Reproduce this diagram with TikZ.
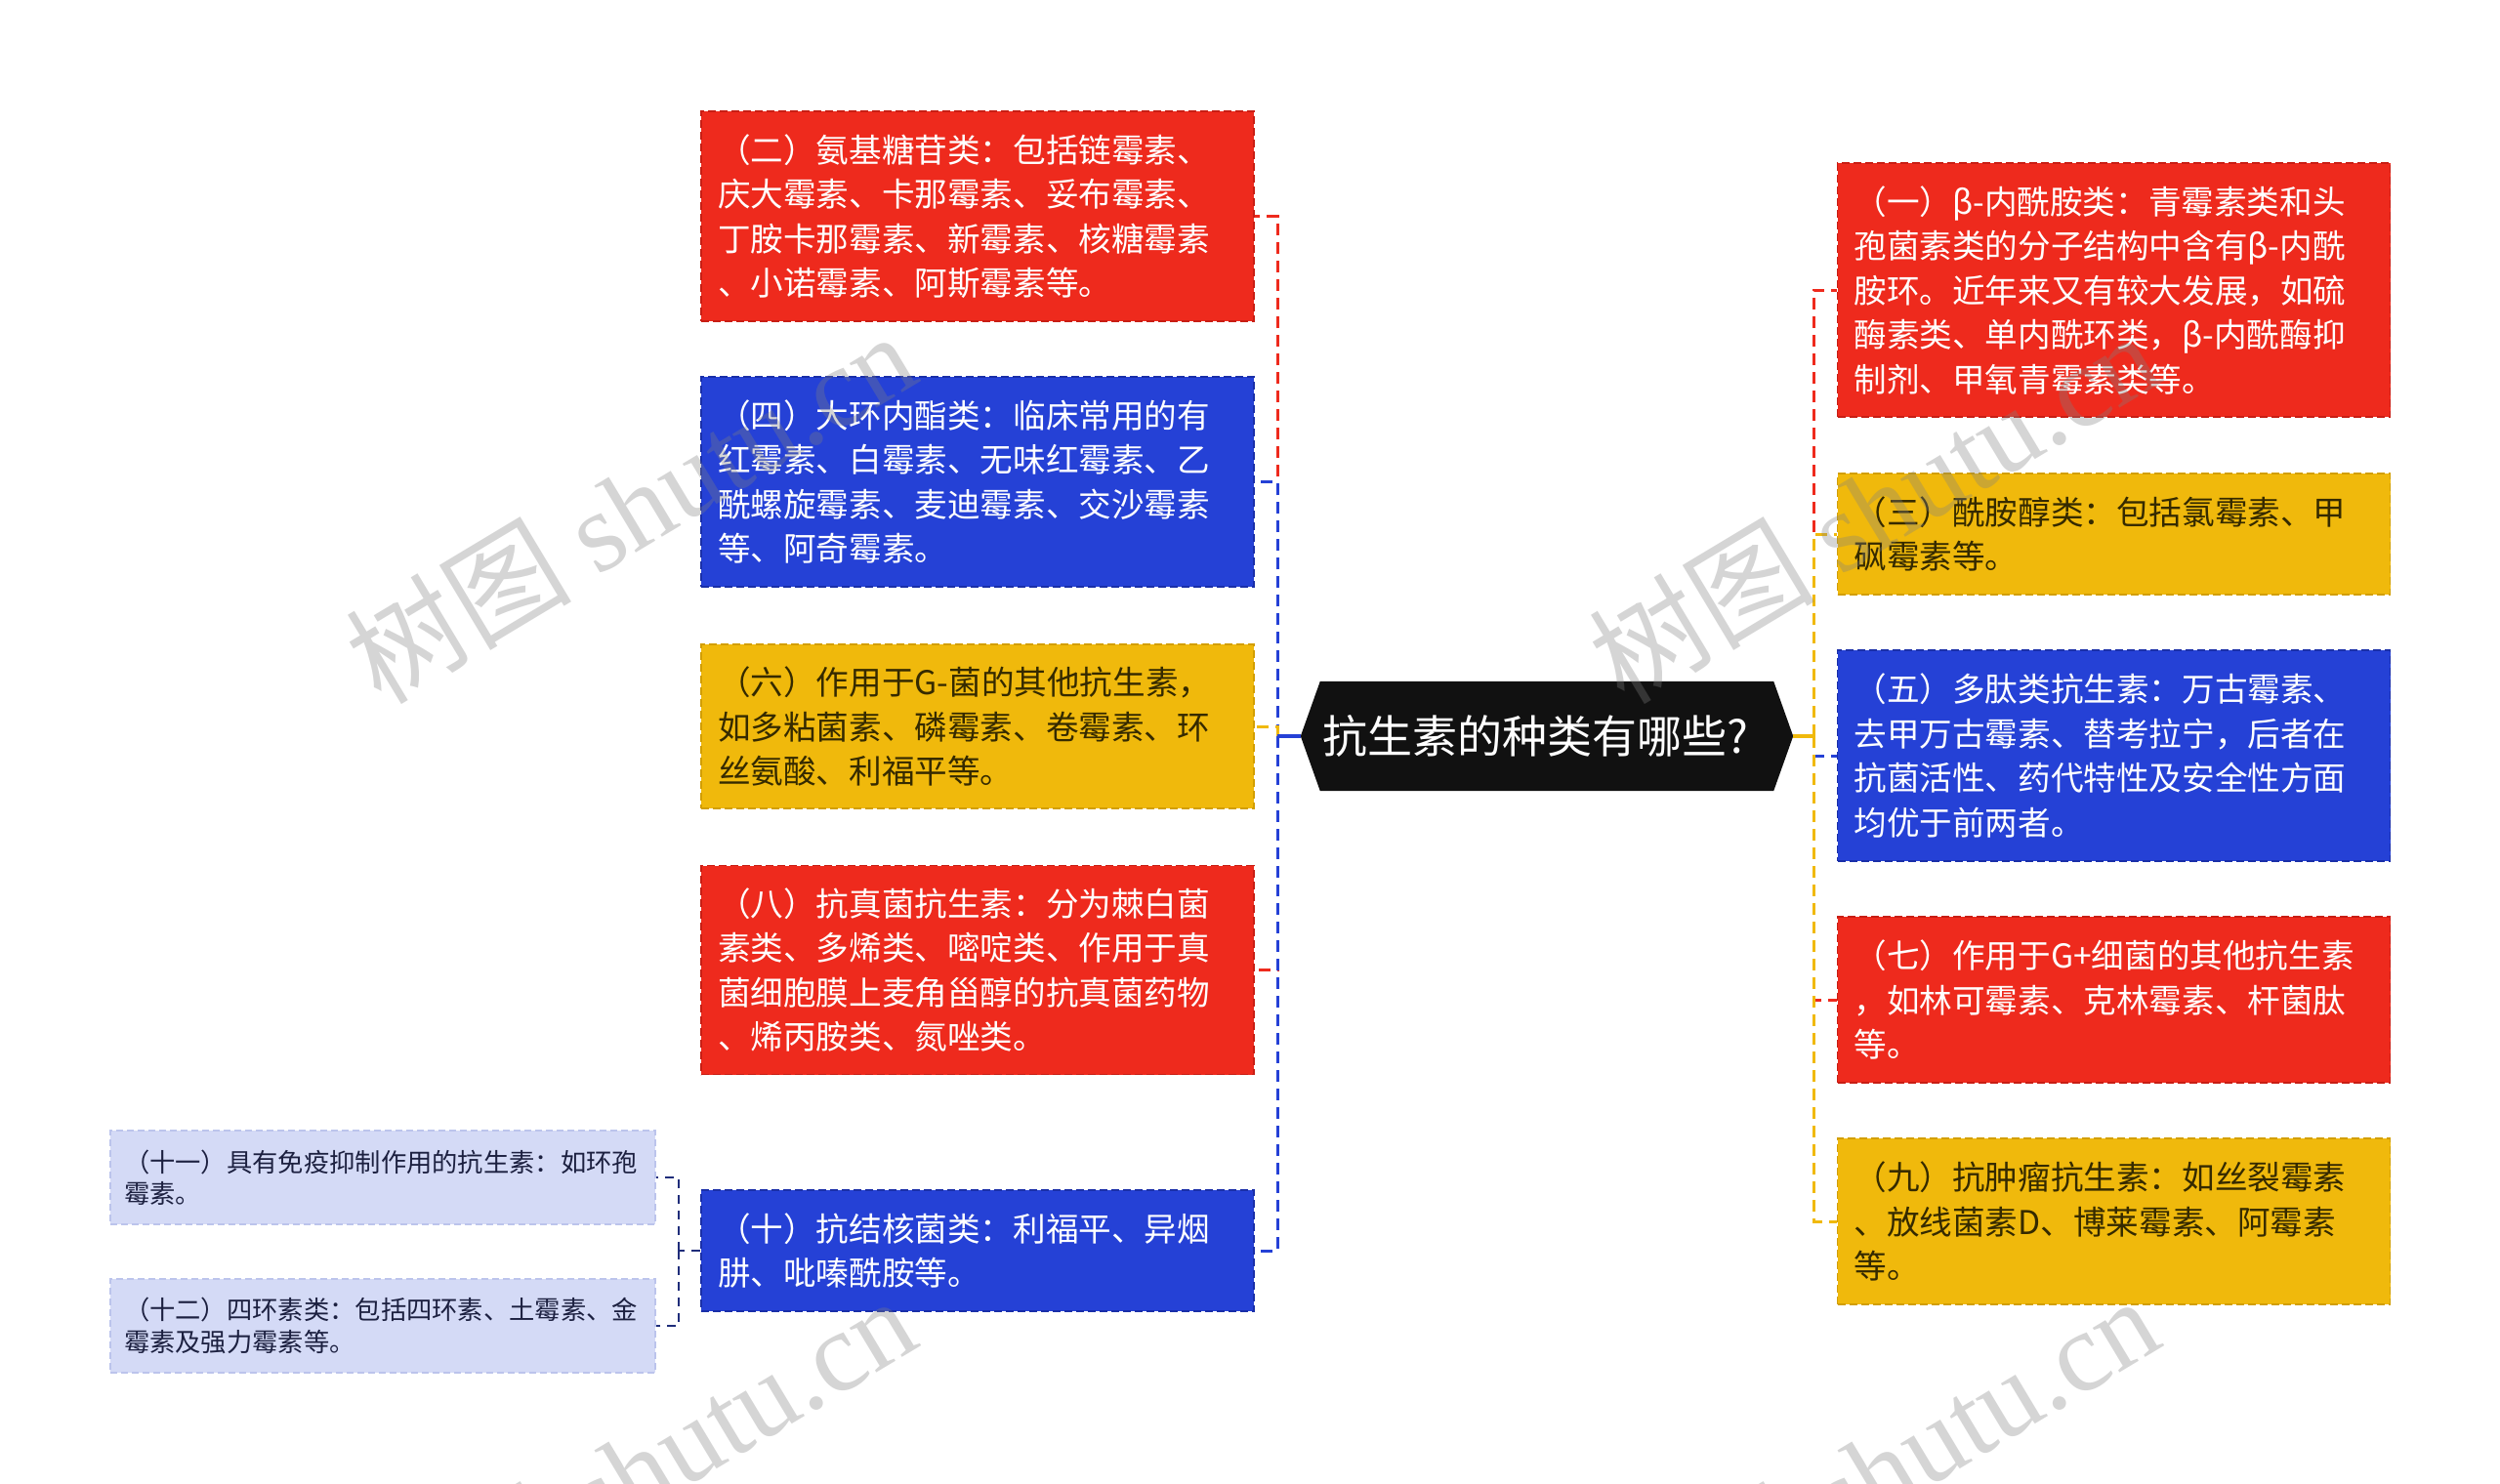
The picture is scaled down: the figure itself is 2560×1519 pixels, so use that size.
\documentclass[tikz,border=0pt]{standalone}
\usepackage{fontspec}
\setmainfont{Noto Sans CJK SC}
\newfontfamily\wmlat{Liberation Serif}
\usetikzlibrary{calc,backgrounds}
\exhyphenpenalty=10000
\hyphenpenalty=10000
\definecolor{cred}{HTML}{EE2A1D}
\definecolor{credd}{HTML}{C81E14}
\definecolor{cblue}{HTML}{2541D6}
\definecolor{cblued}{HTML}{1A2FA8}
\definecolor{cyel}{HTML}{F0B90C}
\definecolor{cyeld}{HTML}{D29E00}
\definecolor{clav}{HTML}{D4DAF6}
\definecolor{clavd}{HTML}{BCC4EC}
\definecolor{cnavy}{HTML}{1F2D7A}
\definecolor{ytext}{HTML}{352A00}
\definecolor{ltext}{HTML}{1C2040}
\definecolor{hexblack}{HTML}{111111}
\tikzset{
  bigbox/.style={rectangle, inner xsep=17pt, inner ysep=0pt, text width=532pt,
    align=left, font=\fontsize{33.6}{45.5}\selectfont, line width=1.6pt,
    dash pattern=on 8pt off 4pt},
  redbox/.style={bigbox, fill=cred, draw=credd, text=white},
  bluebox/.style={bigbox, fill=cblue, draw=cblued, text=white},
  yelbox/.style={bigbox, fill=cyel, draw=cyeld, text=ytext},
  lavbox/.style={rectangle, inner xsep=14pt, inner ysep=0pt, text width=530pt,
    align=left, font=\fontsize{26.3}{32.5}\selectfont, line width=1.4pt,
    dash pattern=on 7pt off 4pt, fill=clav, draw=clavd, text=ltext, minimum height=96pt},
  conn/.style={line width=3pt, dash pattern=on 12pt off 7pt},
  subconn/.style={line width=2.2pt, dash pattern=on 9pt off 7pt, draw=cnavy},
  link/.style={line width=3.2pt},
  wm/.style={rotate=31, text=black!50, opacity=0.33, inner sep=0pt,
    font=\fontsize{116}{120}\selectfont}
}
\begin{document}
\begin{tikzpicture}[x=1pt,y=-1pt]
\useasboundingbox (0,0) rectangle (2560,1519);
\clip (0,0) rectangle (2560,1519);

% center
\node[inner sep=0pt, minimum width=504pt, minimum height=112pt, text=white,
  font=\fontsize{46}{50}\selectfont] (c) at (1584,754) {\hspace*{-24pt}抗生素的种类有哪些?};
\begin{scope}[on background layer]
\fill[white] (0,0) rectangle (2560,1519);
\fill[hexblack] (c.west) -- ($(c.north west)+(20,0)$) -- ($(c.north east)+(-20,0)$)
  -- (c.east) -- ($(c.south east)+(-20,0)$) -- ($(c.south west)+(20,0)$) -- cycle;
\end{scope}

% left column
\node[redbox, minimum height=215pt] (n2) at (1001,221.5) {（二）氨基糖苷类：包括链霉素、\\庆大霉素、卡那霉素、妥布霉素、\\丁胺卡那霉素、新霉素、核糖霉素\\、小诺霉素、阿斯霉素等。};
\node[bluebox, minimum height=215pt] (n4) at (1001,493.5) {（四）大环内酯类：临床常用的有\\红霉素、白霉素、无味红霉素、乙\\酰螺旋霉素、麦迪霉素、交沙霉素\\等、阿奇霉素。};
\node[yelbox, minimum height=168pt] (n6) at (1001,744) {（六）作用于G-菌的其他抗生素，\\如多粘菌素、磷霉素、卷霉素、环\\丝氨酸、利福平等。};
\node[redbox, minimum height=214pt] (n8) at (1001,993.5) {（八）抗真菌抗生素：分为棘白菌\\素类、多烯类、嘧啶类、作用于真\\菌细胞膜上麦角甾醇的抗真菌药物\\、烯丙胺类、氮唑类。};
\node[bluebox, minimum height=124pt] (n10) at (1001,1281) {（十）抗结核菌类：利福平、异烟\\肼、吡嗪酰胺等。};

% sub boxes
\node[lavbox] (n11) at (392,1206) {（十一）具有免疫抑制作用的抗生素：如环孢\\霉素。};
\node[lavbox] (n12) at (392,1358) {（十二）四环素类：包括四环素、土霉素、金\\霉素及强力霉素等。};

% right column
\node[redbox, minimum height=260pt] (n1) at (2164.5,297) {（一）β-内酰胺类：青霉素类和头\\孢菌素类的分子结构中含有β-内酰\\胺环。近年来又有较大发展，如硫\\酶素类、单内酰环类，β-内酰酶抑\\制剂、甲氧青霉素类等。};
\node[yelbox, minimum height=124pt] (n3) at (2164.5,547) {（三）酰胺醇类：包括氯霉素、甲\\砜霉素等。};
\node[bluebox, minimum height=216pt] (n5) at (2164.5,774) {（五）多肽类抗生素：万古霉素、\\去甲万古霉素、替考拉宁，后者在\\抗菌活性、药代特性及安全性方面\\均优于前两者。};
\node[redbox, minimum height=170pt] (n7) at (2164.5,1024) {（七）作用于G+细菌的其他抗生素\\，如林可霉素、克林霉素、杆菌肽\\等。};
\node[yelbox, minimum height=170pt] (n9) at (2164.5,1251) {（九）抗肿瘤抗生素：如丝裂霉素\\、放线菌素D、博莱霉素、阿霉素\\等。};

% trunks
\coordinate (lt) at (1308,754);
\coordinate (rt) at (1857,754);
\coordinate (st) at (695,1281);

% left connectors
\draw[conn, draw=cred] (lt) |- (n2.east);
\draw[conn, draw=cblue] (lt) |- (n4.east);
\draw[conn, draw=cyel] (lt) |- (n6.east);
\draw[conn, draw=cred] (lt) |- (n8.east);
\draw[conn, draw=cblue] (lt) |- (n10.east);
\draw[link, draw=cblue] (c.west) -- (lt);

% right connectors
\draw[conn, draw=cred] (rt) |- (n1.west);
\draw[conn, draw=cyel] (rt) |- (n3.west);
\draw[conn, draw=cblue] (rt) |- (n5.west);
\draw[conn, draw=cred] (rt) |- (n7.west);
\draw[conn, draw=cyel] (rt) |- (n9.west);
\draw[link, draw=cyel] (c.east) -- (rt);

% sub connectors
\draw[subconn] (n10.west) -- (st);
\draw[subconn] (st) |- (n11.east);
\draw[subconn] (st) |- (n12.east);

% watermarks
\node[wm] (w1) at (645,519) {树图 {\wmlat shutu.cn}};
\node[wm] (w2) at (1918,519) {树图 {\wmlat shutu.cn}};
\node[wm] (w3) at (645,1507) {树图 {\wmlat shutu.cn}};
\node[wm] (w4) at (1918,1507) {树图 {\wmlat shutu.cn}};
\end{tikzpicture}
\end{document}
